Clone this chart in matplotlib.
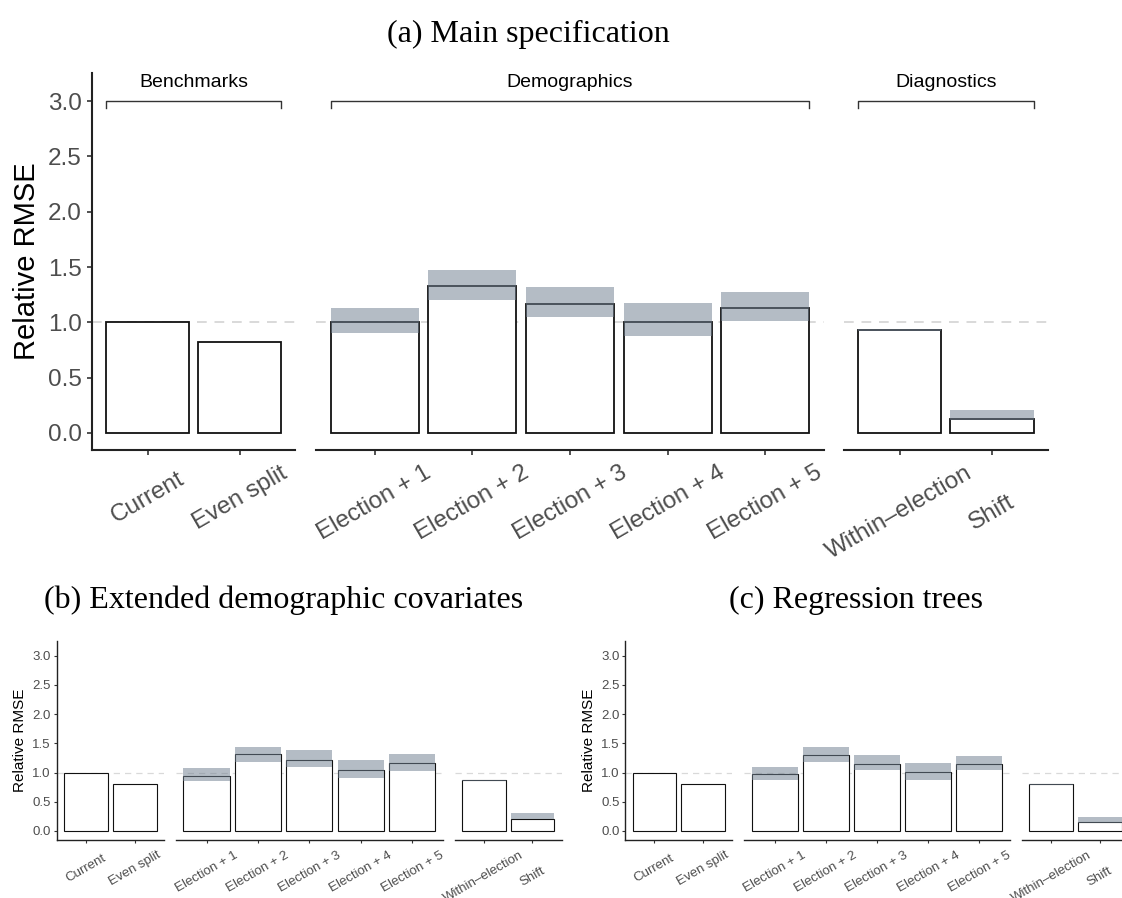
import matplotlib
matplotlib.use("Agg")
import matplotlib.pyplot as plt

# categorias
grupos = ["Benchmarks", "Demographics", "Diagnostics"]
etiquetas = [["Current", "Even split"],
             ["Election + 1", "Election + 2", "Election + 3", "Election + 4", "Election + 5"],
             ["Within\u2013election", "Shift"]]

# (a) especificacion principal
a_valor = [[1.00, 0.82], [1.00, 1.33, 1.17, 1.005, 1.127], [0.93, 0.121]]
a_bajo = [[None, None], [0.906, 1.205, 1.051, 0.879, 1.015], [0.92, 0.115]]
a_alto = [[None, None], [1.127, 1.474, 1.32, 1.172, 1.274], [0.94, 0.206]]

# (b) covariables demograficas extendidas
b_valor = [[1.00, 0.807], [0.944, 1.311, 1.219, 1.036, 1.156], [0.864, 0.206]]
b_bajo = [[None, None], [0.859, 1.185, 1.099, 0.91, 1.03], [0.855, 0.20]]
b_alto = [[None, None], [1.07, 1.437, 1.385, 1.214, 1.317], [0.875, 0.315]]

# (c) arboles de regresion
c_valor = [[1.00, 0.807], [0.979, 1.305, 1.151, 1.002, 1.151], [0.807, 0.155]]
c_bajo = [[None, None], [0.876, 1.185, 1.048, 0.876, 1.048], [0.778, 0.143]]
c_alto = [[None, None], [1.088, 1.431, 1.294, 1.156, 1.282], [0.81, 0.246]]

W, H = 1122, 898
fig = plt.figure(figsize=(W / 100, H / 100), dpi=100)
plt.rcParams["font.family"] = ["Liberation Sans", "DejaVu Sans"]

ajustes = []  # (eje, hueco en px bajo el eje, largo del tick en pt)


def caja(x0, x1, y_top, y_bot):
    # pixeles -> fraccion de figura
    return [x0 / W, 1 - y_bot / H, (x1 - x0) / W, (y_bot - y_top) / H]


def panel(facetas, y_top, y_bot, valores, bajos, altos, grande):
    lw_barra = 1.3 if grande else 0.8
    fs_tick = 17.5 if grande else 9.5
    fs_ylab = 21 if grande else 11
    largo_tick = 3.6 if grande else 2.2   # puntos
    ejes = []
    for k, (x0, x1) in enumerate(facetas):
        ax = fig.add_axes(caja(x0, x1, y_top, y_bot))
        n = len(etiquetas[k])
        pos = list(range(n))
        ax.set_xlim(-0.6, n - 0.4)
        ax.set_ylim(-0.155, 3.255)
        ax.axhline(1.0, color="#d9d9d9", lw=1.4 if grande else 0.9,
                   ls=(0, (5, 4)), zorder=0)
        ax.bar(pos, valores[k], width=0.9, color="white",
               edgecolor="#111111", linewidth=lw_barra, zorder=2)
        for i in pos:
            if bajos[k][i] is not None:
                ax.bar(i, altos[k][i] - bajos[k][i], bottom=bajos[k][i],
                       width=0.9, color="slategray", alpha=0.52,
                       linewidth=0, zorder=3)
        for s in ["top", "right"]:
            ax.spines[s].set_visible(False)
        ax.spines["bottom"].set_linewidth(1.5 if grande else 1.0)
        ax.spines["bottom"].set_color("#222222")
        ax.set_xticks(pos)
        ax.set_xticklabels(etiquetas[k], rotation=30, ha="center", va="center",
                           fontsize=fs_tick, color="#4d4d4d")
        ax.tick_params(axis="x", length=largo_tick, width=1.2 if grande else 0.8,
                       color="#333333", pad=20)
        ajustes.append((ax, 12 if grande else 9, largo_tick))
        if k == 0:
            ax.spines["left"].set_linewidth(1.5 if grande else 1.0)
            ax.spines["left"].set_color("#222222")
            ax.set_yticks([0, 0.5, 1.0, 1.5, 2.0, 2.5, 3.0])
            ax.set_yticklabels(["0.0", "0.5", "1.0", "1.5", "2.0", "2.5", "3.0"],
                               fontsize=fs_tick, color="#4d4d4d")
            ax.tick_params(axis="y", length=largo_tick, width=1.2 if grande else 0.8,
                           color="#333333", pad=4 if grande else 2)
            ax.set_ylabel("Relative RMSE", fontsize=fs_ylab, color="black",
                          labelpad=5 if grande else 4)
        else:
            ax.spines["left"].set_visible(False)
            ax.set_yticks([])
        ax.patch.set_alpha(0)
        ejes.append(ax)
    return ejes


# panel (a)
ejes_a = panel([(92.3, 295), (316, 824), (844, 1047.7)], 73, 450,
               a_valor, a_bajo, a_alto, True)
for k, ax in enumerate(ejes_a):
    n = len(etiquetas[k])
    x0, x1 = -0.45, n - 1 + 0.45
    ax.plot([x0, x0, x1, x1], [2.94, 3.0, 3.0, 2.94], color="#333333",
            lw=1.0, clip_on=False, zorder=4)
    ax.text((x0 + x1) / 2, 3.165, grupos[k], ha="center", va="center",
            fontsize=14, color="black")

# panel (b)
panel([(56.7, 164), (175.7, 443), (454.6, 561.7)], 640.8, 840,
      b_valor, b_bajo, b_alto, False)

# panel (c)
panel([(625.4, 732), (744, 1010), (1021.8, 1129)], 640.8, 840,
      c_valor, c_bajo, c_alto, False)

# titulos
fig.text(528 / W, 1 - 34 / H, "(a) Main specification", ha="center", va="center",
         fontsize=23, family="Liberation Serif")
fig.text(284 / W, 1 - 600 / H, "(b) Extended demographic covariates", ha="center",
         va="center", fontsize=23, family="Liberation Serif")
fig.text(856 / W, 1 - 600 / H, "(c) Regression trees", ha="center", va="center",
         fontsize=23, family="Liberation Serif")

# en cada faceta, la etiqueta mas alta queda justo bajo el eje
fig.canvas.draw()
r = fig.canvas.get_renderer()
for ax, hueco, largo in ajustes:
    alto_max = max(t.get_window_extent(r).height for t in ax.get_xticklabels())
    ax.tick_params(axis="x", pad=(hueco + alto_max / 2) * 0.72 - largo)

fig.savefig("out.png", dpi=100)
